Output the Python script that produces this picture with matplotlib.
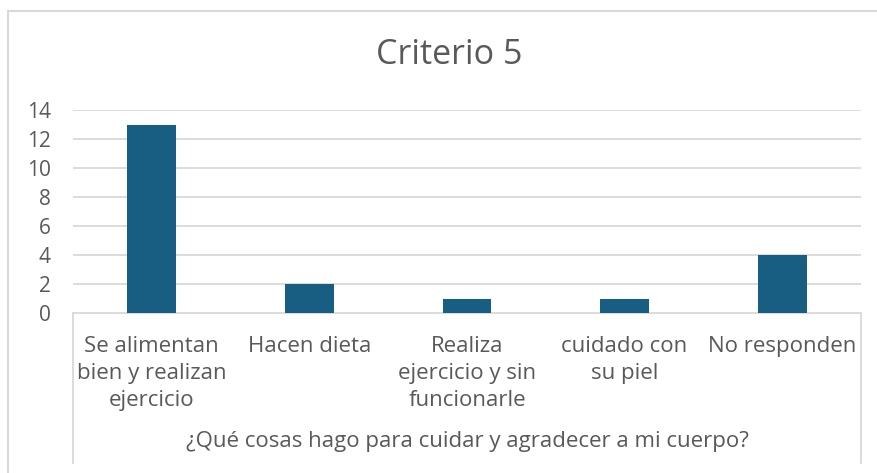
import matplotlib.pyplot as plt
from matplotlib.lines import Line2D
from matplotlib.patches import Rectangle

plt.rcParams['font.family'] = ['Open Sans', 'DejaVu Sans']

categorias = ["Se alimentan\nbien y realizan\nejercicio", "Hacen dieta",
              "Realiza\nejercicio y sin\nfuncionarle", "cuidado con\nsu piel",
              "No responden"]
valores = [13, 2, 1, 1, 4]
y_ticks = [0, 2, 4, 6, 8, 10, 12, 14]

titulo = "Criterio 5"
eje_x = "¿Qué cosas hago para cuidar y agradecer a mi cuerpo?"

gris_texto = '#595959'
gris_linea = '#d9d9d9'
color_barra = '#175e82'

W, H = 878, 473
fig = plt.figure(figsize=(W / 100, H / 100), dpi=100)

# axes placed in pixel terms
x0, x1, y_top, y_bot = 73, 861, 110, 313
ax = fig.add_axes([x0 / W, 1 - y_bot / H, (x1 - x0) / W, (y_bot - y_top) / H])

pos = range(len(categorias))
ax.bar(pos, valores, width=0.31, color=color_barra, zorder=3)
ax.set_xlim(-0.5, len(categorias) - 0.5)
ax.set_ylim(0, 14)
ax.set_yticks(y_ticks)
ax.set_yticklabels([str(t) for t in y_ticks], fontsize=15, color=gris_texto)
ax.tick_params(axis='y', length=0, pad=16)
ax.set_xticks([])
for t in y_ticks[1:]:
    ax.axhline(t, color=gris_linea, lw=1.3, zorder=1)
for s in ['top', 'right', 'left']:
    ax.spines[s].set_visible(False)
ax.spines['bottom'].set_color(gris_linea)
ax.spines['bottom'].set_linewidth(1.3)

# category labels under the axis
for i, c in enumerate(categorias):
    ax.text(i, -0.115, c, transform=ax.get_xaxis_transform(), ha='center', va='top',
            fontsize=16, color=gris_texto, linespacing=1.36)

fig.text(449 / W, 1 - 55 / H, titulo, ha='center', va='center', fontsize=24.5,
         color=gris_texto)
fig.text(467 / W, 1 - 441 / H, eje_x, ha='center', va='center', fontsize=16,
         color=gris_texto)

# box lines around category area
for xp in (x0, x1):
    fig.add_artist(Line2D([xp / W, xp / W], [1 - y_bot / H, 1 - 463 / H],
                          color=gris_linea, lw=1.3))

# chart border
fig.add_artist(Rectangle((8 / W, -0.1), 1.0, 1 - 11 / H + 0.1, fill=False,
                         edgecolor=gris_linea, lw=1.5, transform=fig.transFigure))

fig.savefig('out.png', dpi=100)
